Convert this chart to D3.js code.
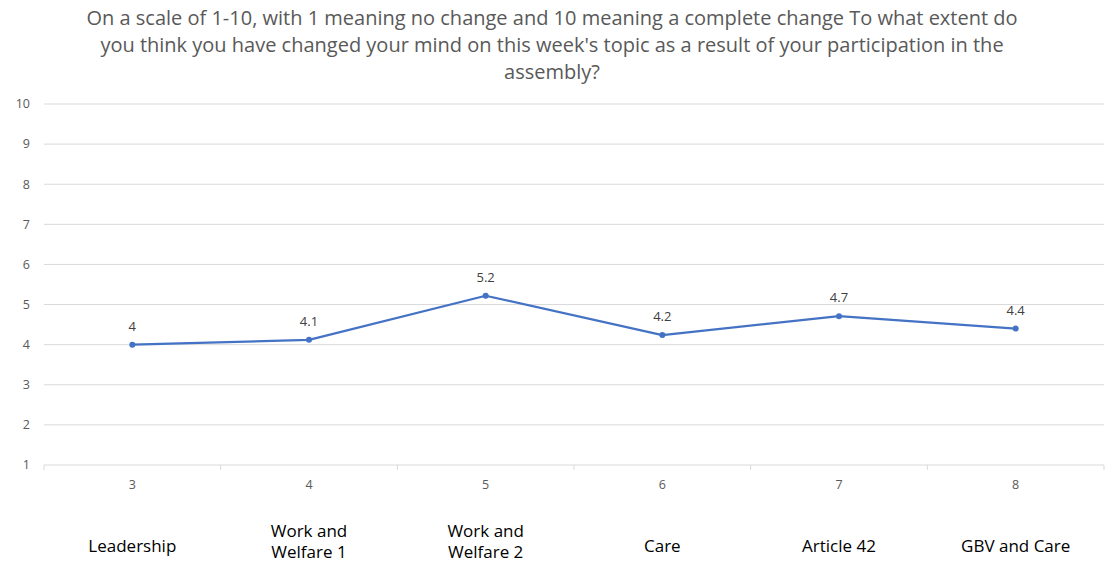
<!DOCTYPE html>
<html>
<head>
<meta charset="utf-8">
<script src="https://cdn.jsdelivr.net/npm/d3@7"></script>
<style>
  body { margin: 0; background: #fff; }
  svg { display: block; }
</style>
</head>
<body>
<div id="chart"></div>
<script>
// Chart data
const weeks = ["3", "4", "5", "6", "7", "8"];
const topics = [["Leadership"], ["Work and", "Welfare 1"], ["Work and", "Welfare 2"], ["Care"], ["Article 42"], ["GBV and Care"]];
const scores = [4.0, 4.12, 5.22, 4.24, 4.71, 4.4];
const yTicks = [1, 2, 3, 4, 5, 6, 7, 8, 9, 10];
const titleLines = [
  "On a scale of 1-10, with 1 meaning no change and 10 meaning a complete change To what extent do",
  "you think you have changed your mind on this week's topic as a result of your participation in the",
  "assembly?"
];

const W = 1105, H = 563;
const margin = { top: 104, right: 1, bottom: 98, left: 44 };

const svg = d3.select("#chart")
  .append("svg")
    .attr("width", W)
    .attr("height", H);

const font = "'Open Sans', sans-serif";

// Scales
const x = d3.scaleBand().domain(weeks).range([margin.left, W - margin.right]);
const y = d3.scaleLinear().domain([1, 10]).range([H - margin.bottom, margin.top]);

// Title
svg.append("g")
  .selectAll("text")
  .data(titleLines)
  .enter().append("text")
    .attr("x", 552)
    .attr("y", (d, i) => 25 + i * 27)
    .attr("text-anchor", "middle")
    .style("font-family", font)
    .style("font-size", "20px")
    .style("fill", "#595959")
    .text(d => d);

// Gridlines
svg.append("g")
  .selectAll("line")
  .data(yTicks.filter(t => t > 1))
  .enter().append("line")
    .attr("x1", margin.left)
    .attr("x2", W - margin.right)
    .attr("y1", d => y(d))
    .attr("y2", d => y(d))
    .style("stroke", "#d9d9d9")
    .style("stroke-width", 1);

// Y axis labels
svg.append("g")
  .selectAll("text")
  .data(yTicks)
  .enter().append("text")
    .attr("x", 30)
    .attr("y", d => y(d))
    .attr("dy", "0.35em")
    .attr("text-anchor", "end")
    .style("font-family", font)
    .style("font-size", "12.5px")
    .style("fill", "#595959")
    .text(d => d);

// X axis
const xAxis = svg.append("g")
  .attr("transform", `translate(0, ${y(1)})`);

xAxis.append("line")
  .attr("x1", margin.left)
  .attr("x2", W - margin.right)
  .style("stroke", "#d9d9d9");

xAxis.selectAll(".tick-mark")
  .data(weeks.concat(["end"]))
  .enter().append("line")
    .attr("class", "tick-mark")
    .attr("x1", (d, i) => margin.left + i * x.step())
    .attr("x2", (d, i) => margin.left + i * x.step())
    .attr("y1", 0)
    .attr("y2", 5)
    .style("stroke", "#d9d9d9");

xAxis.selectAll(".week")
  .data(weeks)
  .enter().append("text")
    .attr("class", "week")
    .attr("x", d => x(d) + x.bandwidth() / 2)
    .attr("y", 24)
    .attr("text-anchor", "middle")
    .style("font-family", font)
    .style("font-size", "12.5px")
    .style("fill", "#595959")
    .text(d => d);

// Topic labels under the axis
const topicText = svg.append("g")
  .selectAll("text")
  .data(topics)
  .enter().append("text")
    .attr("x", (d, i) => x(weeks[i]) + x.bandwidth() / 2)
    .attr("y", d => d.length === 1 ? 552 : 537)
    .attr("text-anchor", "middle")
    .style("font-family", font)
    .style("font-size", "17px")
    .style("fill", "#000");

topicText.selectAll("tspan")
  .data(d => d)
  .enter().append("tspan")
    .attr("x", function() { return this.parentNode.getAttribute("x"); })
    .attr("dy", (d, i) => i === 0 ? 0 : 21)
    .text(d => d);

// Line
const line = d3.line()
  .x((d, i) => x(weeks[i]) + x.bandwidth() / 2)
  .y(d => y(d));

svg.append("path")
  .datum(scores)
  .attr("d", line)
  .style("fill", "none")
  .style("stroke", "#4472c4")
  .style("stroke-width", 2.25)
  .style("stroke-linejoin", "round");

// Markers
svg.append("g")
  .selectAll("circle")
  .data(scores)
  .enter().append("circle")
    .attr("cx", (d, i) => x(weeks[i]) + x.bandwidth() / 2)
    .attr("cy", d => y(d))
    .attr("r", 3)
    .style("fill", "#4472c4");

// Data labels
const fmt = d3.format(".1~f");
svg.append("g")
  .selectAll("text")
  .data(scores)
  .enter().append("text")
    .attr("x", (d, i) => x(weeks[i]) + x.bandwidth() / 2)
    .attr("y", d => y(d) - 14)
    .attr("text-anchor", "middle")
    .style("font-family", font)
    .style("font-size", "13px")
    .style("fill", "#404040")
    .text(d => fmt(d));
</script>
</body>
</html>
